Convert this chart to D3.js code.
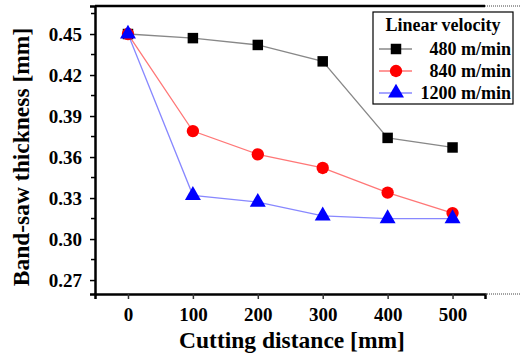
<!DOCTYPE html>
<html>
<head>
<meta charset="utf-8">
<script src="https://cdn.jsdelivr.net/npm/d3@7"></script>
<style>
  body { margin: 0; background: #fff; }
  svg text { font-family: "Liberation Serif", "Times New Roman", serif; font-weight: bold; }
</style>
</head>
<body>
<div id="chart"></div>
<script>
// data
var distances = [0, 100, 200, 300, 400, 500];
var v480 = [0.450, 0.447, 0.442, 0.430, 0.374, 0.367];
var v840 = [0.450, 0.379, 0.362, 0.352, 0.334, 0.319];
var v1200 = [0.450, 0.332, 0.327, 0.317, 0.315, 0.315];
var seriesNames = ["480 m/min", "840 m/min", "1200 m/min"];
var yTicks = [0.27, 0.30, 0.33, 0.36, 0.39, 0.42, 0.45];
var xTicks = [0, 100, 200, 300, 400, 500];

var width = 520, height = 356;
var mLeft = 95, mRight = 485, mTop = 6, mBottom = 294;

var svg = d3.select("#chart").append("svg").attr("width", width).attr("height", height);

var x = d3.scaleLinear().domain([-50.8, 550]).range([mLeft, mRight]);
var y = d3.scaleLinear().domain([0.2598, 0.4705]).range([mBottom, mTop]);

// minor y ticks
var minorY = yTicks.map(function(d){ return d + 0.015; }).concat([yTicks[0] - 0.015 + 0.03 - 0.03])
  .filter(function(d){ return d > 0.26 && d < 0.47; });
svg.append("g").selectAll("line").data(minorY)
  .enter().append("line")
  .attr("x1", mLeft - 4).attr("x2", mLeft)
  .attr("y1", function(d){ return y(d); }).attr("y2", function(d){ return y(d); })
  .attr("stroke", "#000").attr("stroke-width", 1.5);

// y axis
var gy = svg.append("g").attr("transform", "translate(" + mLeft + ",0)")
  .call(d3.axisLeft(y).tickValues(yTicks).tickFormat(d3.format(".2f")).tickSize(5).tickPadding(8));
gy.select(".domain").attr("stroke-width", 2.5);
gy.selectAll(".tick line").attr("stroke-width", 1.5);
gy.selectAll("text").attr("font-size", 19).attr("fill", "#000");

// x axis
var gx = svg.append("g").attr("transform", "translate(0," + mBottom + ")")
  .call(d3.axisBottom(x).tickValues(xTicks).tickSize(5).tickPadding(9));
gx.select(".domain").attr("stroke-width", 2.5);
gx.selectAll(".tick line").attr("stroke-width", 1.5).attr("stroke", "#333");
gx.selectAll("text").attr("font-size", 19).attr("fill", "#000");

// top frame line
svg.append("line").attr("x1", mLeft).attr("x2", mRight).attr("y1", mTop).attr("y2", mTop)
  .attr("stroke", "#000").attr("stroke-width", 2.5);
// dotted crop edges
svg.append("line").attr("x1", mRight).attr("x2", width).attr("y1", mTop).attr("y2", mTop)
  .attr("stroke", "#444").attr("stroke-width", 1).attr("stroke-dasharray", "1,1");
svg.append("line").attr("x1", mRight).attr("x2", width).attr("y1", mBottom).attr("y2", mBottom)
  .attr("stroke", "#444").attr("stroke-width", 1).attr("stroke-dasharray", "1,1");

// axis titles
svg.append("text").attr("x", 292).attr("y", 348).attr("text-anchor", "middle")
  .attr("font-size", 23.5).text("Cutting distance [mm]");
svg.append("text").attr("transform", "translate(29," + 157 + ") rotate(-90)")
  .attr("text-anchor", "middle").attr("font-size", 23.5).text("Band-saw thickness [mm]");

var line = d3.line()
  .x(function(d, i){ return x(distances[i]); })
  .y(function(d){ return y(d); });

var series = [
  {name: seriesNames[0], values: v480, color: "#000", lineColor: "#888", shape: d3.symbolSquare, size: 110},
  {name: seriesNames[1], values: v840, color: "#ff0000", lineColor: "#f77", shape: d3.symbolCircle, size: 120},
  {name: seriesNames[2], values: v1200, color: "#0000ff", lineColor: "#88f", shape: d3.symbolTriangle, size: 110}
];

series.forEach(function(s) {
  svg.append("path").attr("d", line(s.values)).attr("fill", "none")
    .attr("stroke", s.lineColor).attr("stroke-width", 1.3);
});
series.forEach(function(s) {
  svg.append("g").selectAll("path").data(s.values).enter().append("path")
    .attr("d", d3.symbol().type(s.shape).size(s.size))
    .attr("transform", function(d, i){ return "translate(" + x(distances[i]) + "," + y(d) + ")"; })
    .attr("fill", s.color);
});

// legend
var lg = svg.append("g");
lg.append("rect").attr("x", 373).attr("y", 12).attr("width", 140).attr("height", 92)
  .attr("fill", "#fff").attr("stroke", "#000").attr("stroke-width", 1.2);
lg.append("text").attr("x", 443).attr("y", 31).attr("text-anchor", "middle")
  .attr("font-size", 18).text("Linear velocity");
var legY = [49, 71, 93];
series.forEach(function(s, i) {
  lg.append("line").attr("x1", 379).attr("x2", 412).attr("y1", legY[i]).attr("y2", legY[i])
    .attr("stroke", s.lineColor).attr("stroke-width", 1.3);
  lg.append("path").attr("d", d3.symbol().type(s.shape).size(s.size))
    .attr("transform", "translate(396," + legY[i] + ")").attr("fill", s.color);
  lg.append("text").attr("x", 511).attr("y", legY[i] + 6).attr("text-anchor", "end")
    .attr("font-size", 18).text(s.name);
});
</script>
</body>
</html>
